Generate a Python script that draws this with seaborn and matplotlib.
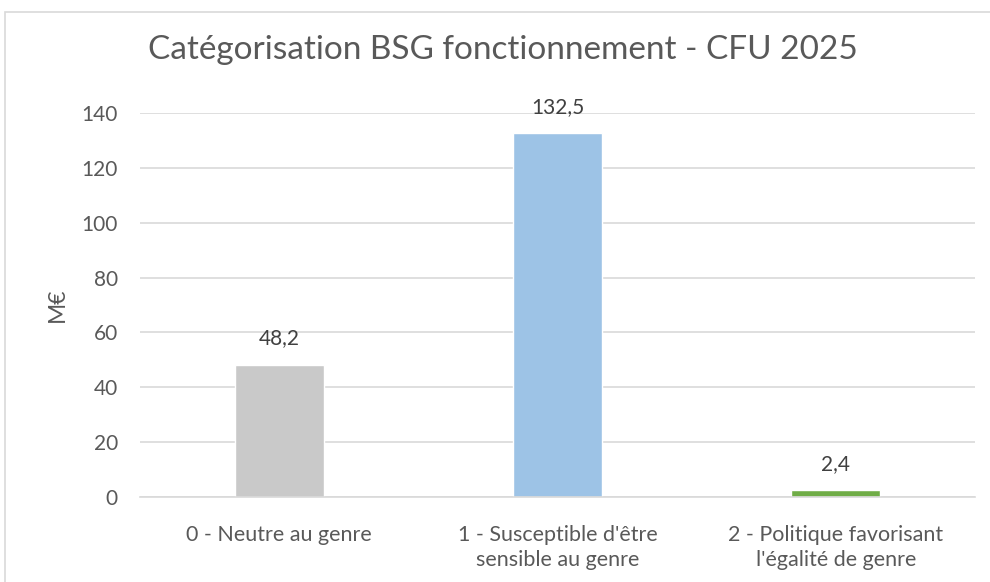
import matplotlib
matplotlib.use("Agg")
import matplotlib.pyplot as plt
import seaborn as sns
import pandas as pd
from matplotlib.patches import Rectangle

categories = ["0 - Neutre au genre",
              "1 - Susceptible d'être\nsensible au genre",
              "2 - Politique favorisant\nl'égalité de genre"]
values = [48.2, 132.5, 2.4]
value_labels = ["48,2", "132,5", "2,4"]
colors = ["#C9C9C9", "#9DC3E6", "#70AD47"]
yticks = [0, 20, 40, 60, 80, 100, 120, 140]

sns.set_theme(style="white")
plt.rcParams['font.family'] = ['Lato', 'DejaVu Sans']

df = pd.DataFrame({"cat": categories, "val": values})

fig = plt.figure(figsize=(9.9, 5.82), dpi=100)
ax = fig.add_axes([0.1414, 0.146, 0.8436, 0.66])

sns.barplot(data=df, x="cat", y="val", hue="cat", palette=colors,
            width=0.32, legend=False, ax=ax, saturation=1)

ax.set_ylim(0, 140)
ax.set_yticks(yticks)
ax.set_yticklabels([str(t) for t in yticks])
ax.yaxis.grid(True, color="#D9D9D9", linewidth=1.2)
ax.set_axisbelow(True)
for s in ["top", "right", "left"]:
    ax.spines[s].set_visible(False)
ax.spines["bottom"].set_color("#D9D9D9")
ax.spines["bottom"].set_linewidth(1.2)
ax.tick_params(axis="both", length=0, colors="#595959")
ax.tick_params(axis="x", pad=20, labelsize=15.5)
ax.tick_params(axis="y", pad=16, labelsize=15)
for t in ax.get_xticklabels():
    t.set_linespacing(1.3)
ax.set_xlabel("")
ax.set_ylabel("M€", fontsize=16.5, color="#595959", labelpad=10)

for i, (v, lab) in enumerate(zip(values, value_labels)):
    ax.annotate(lab, (i, v), xytext=(0, 19), textcoords="offset points",
                ha="center", va="center", fontsize=15, color="#404040")

fig.text(0.508, 0.914, "Catégorisation BSG fonctionnement - CFU 2025",
         ha="center", va="center", fontsize=24, color="#595959")

fig.patches.append(Rectangle((5 / 990, -0.01), 1.0, 1 - 12 / 582 + 0.01,
                             transform=fig.transFigure, fill=False,
                             edgecolor="#D9D9D9", linewidth=1.2))

fig.savefig("out.png", dpi=100)
